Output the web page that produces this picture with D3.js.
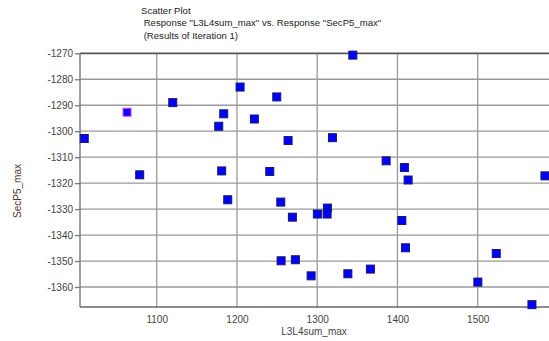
<!DOCTYPE html>
<html>
<head>
<meta charset="utf-8">
<script src="https://cdn.jsdelivr.net/npm/d3@7"></script>
<style>
  html, body { margin: 0; padding: 0; background: #fff; }
  svg { display: block; font-family: "Liberation Sans", Arial, sans-serif; }
</style>
</head>
<body>
<svg id="chart" width="549" height="341"></svg>
<script>
// Response values per iteration run
const l3l4sumMax = [1009.7, 1063.0, 1120.0, 1078.8, 1203.9, 1249.6, 1183.5, 1221.7, 1177.3,
  1263.7, 1319.0, 1181.0, 1240.9, 1188.5, 1254.6, 1269.1, 1300.2, 1312.7, 1312.3, 1405.5,
  1410.0, 1255.0, 1272.8, 1292.4, 1338.2, 1366.3, 1385.9, 1408.7, 1413.3, 1583.8, 1523.1,
  1500.2, 1567.6, 1344.4];
const secP5Max = [-1302.8, -1292.7, -1289.0, -1316.8, -1283.0, -1286.8, -1293.3, -1295.3, -1298.1,
  -1303.6, -1302.5, -1315.3, -1315.5, -1326.4, -1327.3, -1333.1, -1331.9, -1329.6, -1331.9, -1334.4,
  -1344.9, -1349.9, -1349.5, -1355.7, -1354.9, -1353.1, -1311.4, -1314.0, -1318.8, -1317.2, -1347.1,
  -1358.1, -1366.8, -1270.7];
// index of the highlighted run
const highlighted = [1];

const xTicks = [1100, 1200, 1300, 1400, 1500];
const yTicks = [-1270, -1280, -1290, -1300, -1310, -1320, -1330, -1340, -1350, -1360];

const titleLines = ["Scatter Plot",
  " Response \"L3L4sum_max\" vs. Response \"SecP5_max\"",
  " (Results of Iteration 1)"];
const xTitle = "L3L4sum_max";
const yTitle = "SecP5_max";

const svg = d3.select("#chart");
const plot = { left: 80, top: 53.3, right: 552, bottom: 307 };

const x = d3.scaleLinear().domain([1004.4, 1592.6]).range([plot.left, plot.right]);
const y = d3.scaleLinear().domain([-1270, -1367.7]).range([plot.top, plot.bottom]);

// grid lines
const grid = svg.append("g");
grid.selectAll("line.gx").data(xTicks).join("line")
  .attr("x1", d => x(d)).attr("x2", d => x(d))
  .attr("y1", plot.top).attr("y2", plot.bottom)
  .attr("stroke", "#9a9a9a").attr("stroke-width", 1.3);
grid.selectAll("line.gy").data(yTicks.slice(1)).join("line")
  .attr("x1", plot.left).attr("x2", plot.right)
  .attr("y1", d => y(d)).attr("y2", d => y(d))
  .attr("stroke", "#9a9a9a").attr("stroke-width", 1.3);

// frame
svg.append("line").attr("x1", plot.left).attr("x2", plot.right)
  .attr("y1", plot.top).attr("y2", plot.top).attr("stroke", "#555").attr("stroke-width", 1.8);
svg.append("line").attr("x1", plot.left).attr("x2", plot.right)
  .attr("y1", plot.bottom).attr("y2", plot.bottom).attr("stroke", "#666").attr("stroke-width", 1.5);
svg.append("line").attr("x1", plot.left).attr("x2", plot.left)
  .attr("y1", plot.top).attr("y2", plot.bottom).attr("stroke", "#777").attr("stroke-width", 1.4);

// y axis
const yAxis = d3.axisLeft(y).tickValues(yTicks).tickSize(5).tickPadding(2).tickFormat(d3.format("d"));
const ya = svg.append("g").attr("transform", `translate(${plot.left},0)`).call(yAxis);
ya.select(".domain").remove();
ya.selectAll(".tick line").attr("stroke", "#777").attr("stroke-width", 1.3);
ya.selectAll(".tick text").attr("fill", "#444").attr("font-size", 10)
  .attr("font-family", "Liberation Sans, Arial, sans-serif").text(d => String(d));

// x axis
const xAxis = d3.axisBottom(x).tickValues(xTicks).tickSize(0).tickPadding(9).tickFormat(d3.format("d"));
const xa = svg.append("g").attr("transform", `translate(0,${plot.bottom})`).call(xAxis);
xa.select(".domain").remove();
xa.selectAll(".tick text").attr("fill", "#444").attr("font-size", 10)
  .attr("font-family", "Liberation Sans, Arial, sans-serif");

// axis titles
svg.append("text").attr("x", 314).attr("y", 335).attr("text-anchor", "middle")
  .attr("font-size", 10).attr("fill", "#444").text(xTitle);
svg.append("text").attr("transform", "translate(21,191) rotate(-90)").attr("text-anchor", "middle")
  .attr("font-size", 10).attr("fill", "#553333").text(yTitle);

// title block
svg.append("g").selectAll("text").data(titleLines).join("text")
  .attr("x", 141).attr("y", (d, i) => 13.5 + i * 12.5)
  .attr("font-size", 9.6).attr("fill", "#222")
  .attr("xml:space", "preserve").style("white-space", "pre")
  .text(d => d);

// points
const pts = l3l4sumMax.map((v, i) => ({ x: v, y: secP5Max[i], hi: highlighted.includes(i) }));
const s = 8;
svg.append("g").selectAll("rect").data(pts).join("rect")
  .attr("x", d => x(d.x) - s / 2).attr("y", d => y(d.y) - s / 2)
  .attr("width", s).attr("height", s)
  .attr("fill", "#0000ff")
  .attr("stroke", d => d.hi ? "#ff33ff" : "#1a1a66")
  .attr("stroke-width", 1);
</script>
</body>
</html>
